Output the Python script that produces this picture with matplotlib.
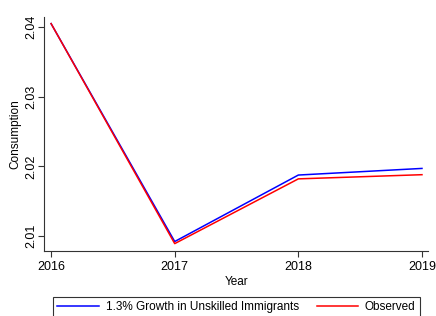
import matplotlib
matplotlib.use("Agg")
from matplotlib import pyplot as plt

plt.rcParams['font.family'] = ['Liberation Sans', 'DejaVu Sans']

years = [2016, 2017, 2018, 2019]
growth = [2.0405, 2.0092, 2.01875, 2.0197]
observed = [2.0405, 2.0089, 2.0182, 2.0188]
y_ticks = [2.01, 2.02, 2.03, 2.04]

fig = plt.figure(figsize=(4.36, 3.16), dpi=100)
ax = fig.add_axes([0.101, 0.2057, 0.881, 0.7403])

ax.plot(years, growth, color='#0000ff', lw=1.1, label='1.3% Growth in Unskilled Immigrants')
ax.plot(years, observed, color='#ff0000', lw=1.1, label='Observed')

ax.set_xlim(2015.943, 2019.05)
ax.set_ylim(2.00784, 2.04144)
ax.set_xticks(years)
ax.set_yticks(y_ticks)
ax.set_yticklabels([f'{v:.2f}' for v in y_ticks], rotation=90, va='center')
ax.tick_params(labelsize=9, length=4, width=0.8, color='#333333')
ax.tick_params(axis='y', pad=1)
ax.set_xlabel('Year', fontsize=8.5, labelpad=2)
ax.set_ylabel('Consumption', fontsize=8.5, labelpad=3)

for side in ['top', 'right']:
    ax.spines[side].set_visible(False)
for side in ['left', 'bottom']:
    ax.spines[side].set_color('#333333')
    ax.spines[side].set_linewidth(0.8)

leg = fig.legend(loc='upper center', bbox_to_anchor=(0.5424, 0.061), ncol=2,
                 fontsize=8.5, frameon=True, fancybox=False, handlelength=3.5,
                 handletextpad=0.6, columnspacing=1.5, borderpad=0.4,
                 borderaxespad=0)
leg.get_frame().set_edgecolor('black')
leg.get_frame().set_linewidth(0.8)

fig.savefig('out.png', dpi=100)
